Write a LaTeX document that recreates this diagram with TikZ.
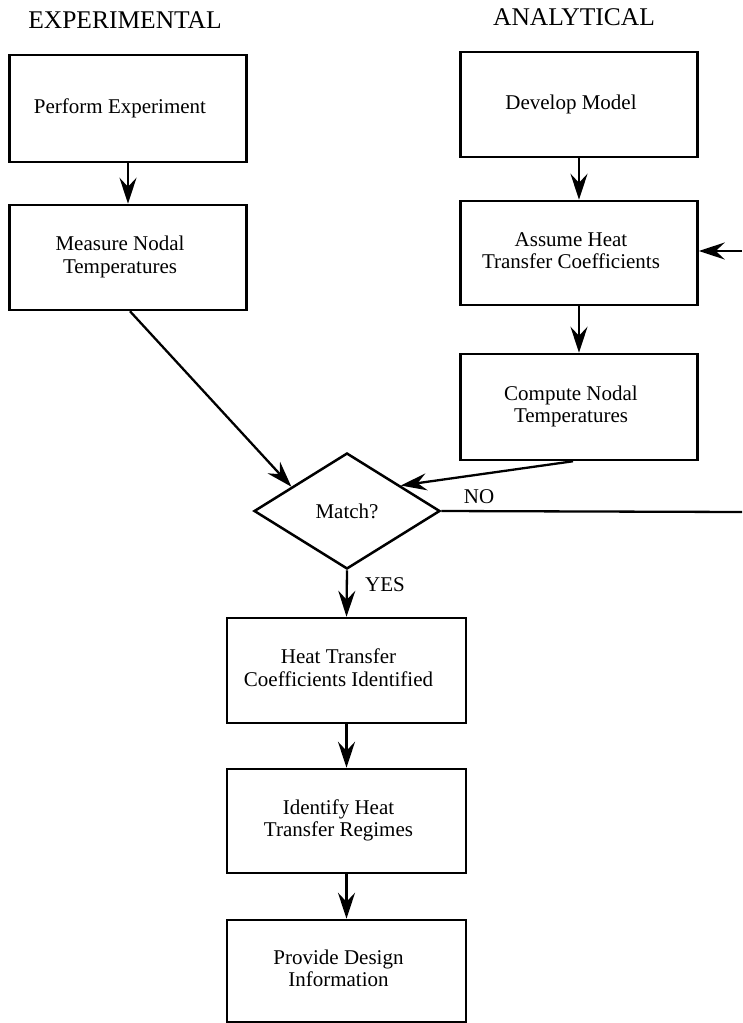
\documentclass[tikz,border=0pt]{standalone}
\usepackage{fontspec}
\setmainfont{Liberation Serif}
\usetikzlibrary{arrows.meta,shapes.geometric,calc}
\newcommand{\boxtext}[1]{\hspace*{-16pt}\begin{tabular}{@{}c@{}}#1\end{tabular}}
\tikzset{
  box/.style={draw, line width=2.5pt, minimum width=237pt, minimum height=105pt,
    inner sep=0pt, font=\fontsize{21}{22.5}\selectfont},
  dec/.style={draw, diamond, line width=2.5pt, minimum width=186pt, minimum height=116pt,
    inner sep=0pt, font=\fontsize{21}{22.5}\selectfont},
  hdr/.style={inner sep=0pt, font=\fontsize{25.5}{27}\selectfont},
  lbl/.style={inner sep=0pt, font=\fontsize{21}{22.5}\selectfont},
  arr/.style={line width=2.3pt, -{Stealth[length=26pt,width=17pt,inset=9pt]}},
  ln/.style={line width=2.3pt}
}
\begin{document}
\begin{tikzpicture}[x=1pt,y=-1pt]
\useasboundingbox (0,0) rectangle (742,1023);
\node[hdr] (hexp) at (125,20) {EXPERIMENTAL};
\node[hdr] (hana) at (574,17) {ANALYTICAL};

\node[box, minimum height=107pt] (pe) at (128,108.5) {\boxtext{Perform Experiment}};
\node[box] (mn) at (128,257.5) {\boxtext{Measure Nodal\\Temperatures}};
\node[box] (dm) at (579,104.5) {\boxtext{Develop Model}};
\node[box, minimum height=104pt] (ah) at (579,253) {\boxtext{Assume Heat\\Transfer Coefficients}};
\node[box, minimum height=106pt] (cn) at (579,407) {\boxtext{Compute Nodal\\Temperatures}};
\node[dec] (match) at (347,511) {Match?};
\node[box, minimum width=239pt] (htc) at (346.5,670.5) {\boxtext{Heat Transfer\\Coefficients Identified}};
\node[box, minimum width=239pt, minimum height=104pt] (ihr) at (346.5,821) {\boxtext{Identify Heat\\Transfer Regimes}};
\node[box, minimum width=239pt, minimum height=102pt] (pdi) at (346.5,971) {\boxtext{Provide Design\\Information}};

\coordinate (noend) at (742,512);
\coordinate (loopin) at (742,251);

\draw[arr] (pe.south) -- (mn.north);
\draw[arr] (dm.south) -- (ah.north);
\draw[arr] (ah.south) -- (cn.north);
\draw[arr] ([xshift=2pt]mn.south) -- ($(match.west)!0.41!(match.north)$);
\draw[arr] ([xshift=-6pt]cn.south) -- ($(match.north)!0.57!(match.east)$);
\draw[ln] (match.east) -- (noend);
\node[lbl] (no) at (479,497) {NO};
\draw[arr] (loopin) -- (loopin -| ah.east);
\draw[arr] (match.south) -- (htc.north);
\node[lbl] (yes) at (385,585) {YES};
\draw[arr] (htc.south) -- (ihr.north);
\draw[arr] (ihr.south) -- (pdi.north);
\end{tikzpicture}
\end{document}
